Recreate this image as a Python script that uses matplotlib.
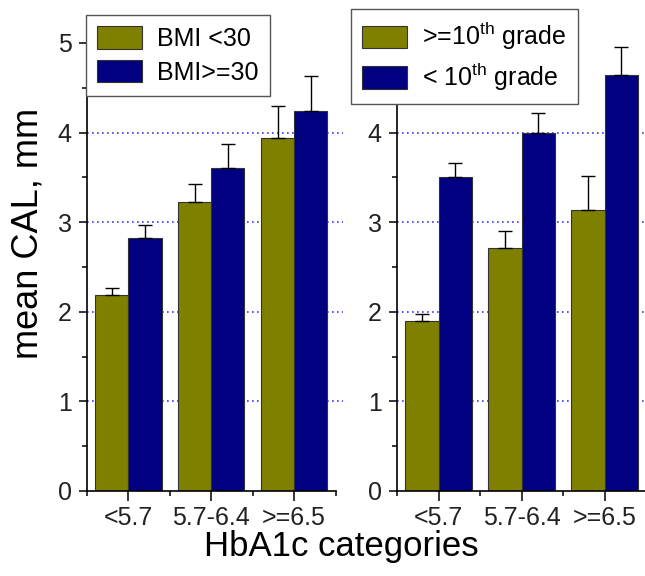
import matplotlib
matplotlib.use('Agg')
import matplotlib.pyplot as plt
import numpy as np
from matplotlib.ticker import MultipleLocator, FixedLocator

plt.rcParams['font.family'] = ['Liberation Sans', 'DejaVu Sans']
plt.rcParams['mathtext.fontset'] = 'custom'
plt.rcParams['mathtext.rm'] = 'Liberation Sans'

categories = ['<5.7', '5.7-6.4', '>=6.5']

bmi_labels = ['BMI <30', 'BMI>=30']
bmi_low = [2.19, 3.23, 3.94]
bmi_low_err = [0.07, 0.20, 0.36]
bmi_high = [2.82, 3.60, 4.24]
bmi_high_err = [0.15, 0.27, 0.39]

edu_labels = [r'>=10$^{\mathrm{th}}$ grade', r'< 10$^{\mathrm{th}}$ grade']
edu_high = [1.90, 2.71, 3.13]
edu_high_err = [0.07, 0.19, 0.39]
edu_low = [3.50, 4.00, 4.64]
edu_low_err = [0.16, 0.22, 0.31]

OLIVE = '#808000'
NAVY = '#000080'

fig = plt.figure(figsize=(6.45, 5.76), dpi=100)
ax1 = fig.add_axes([87 / 645, 85 / 576, 248.5 / 645, 475 / 576])
ax2 = fig.add_axes([397 / 645, 85 / 576, 249 / 645, 475 / 576])

x = np.arange(len(categories))
w = 0.4


def panel(ax, a, a_err, b, b_err, labels, grid_end):
    ax.bar(x - w / 2, a, w, color=OLIVE, edgecolor='#333333', linewidth=0.8,
           label=labels[0], zorder=2)
    ax.bar(x + w / 2, b, w, color=NAVY, edgecolor='#333333', linewidth=0.8,
           label=labels[1], zorder=2)
    ax.errorbar(x - w / 2, a, yerr=[np.zeros(3), a_err], fmt='none',
                ecolor='black', elinewidth=1, capsize=5, capthick=1, zorder=3)
    ax.errorbar(x + w / 2, b, yerr=[np.zeros(3), b_err], fmt='none',
                ecolor='black', elinewidth=1, capsize=5, capthick=1, zorder=3)
    ax.set_xlim(-0.5, 2.5)
    ax.set_ylim(0, 5.3)
    ax.set_xticks(x)
    ax.set_xticklabels(categories)
    ax.xaxis.set_minor_locator(FixedLocator([-0.5, 0.5, 1.5, 2.5]))
    ax.yaxis.set_major_locator(MultipleLocator(1))
    ax.yaxis.set_minor_locator(MultipleLocator(0.5))
    ax.tick_params(axis='both', which='major', labelsize=18, length=6,
                   width=1.1, colors='black', labelcolor='#222222')
    ax.tick_params(axis='both', which='minor', length=3.5, width=1.1)
    ax.tick_params(axis='x', which='major', length=7, pad=4)
    ax.tick_params(axis='y', which='major', pad=5)
    for s in ('top', 'right'):
        ax.spines[s].set_visible(False)
    for s in ('left', 'bottom'):
        ax.spines[s].set_linewidth(1.2)
    for v in range(1, 5):
        ax.axhline(v, xmax=grid_end, color='#3a3aff', linestyle=(0, (1, 2)),
                   linewidth=1.2, zorder=1, clip_on=False)


panel(ax1, bmi_low, bmi_low_err, bmi_high, bmi_high_err, bmi_labels, 1.03)
panel(ax2, edu_high, edu_high_err, edu_low, edu_low_err, edu_labels, 1.0)

fig.text(28 / 645, 1 - 233 / 576, 'mean CAL, mm', fontsize=26,
         rotation=90, ha='center', va='center')
fig.text(341 / 645, 1 - 556 / 576, 'HbA1c categories', fontsize=25,
         ha='center', va='baseline')

leg_kw = dict(fontsize=18, frameon=True, fancybox=False, framealpha=1,
              edgecolor='#555555', handlelength=1.8, handleheight=1.0,
              borderpad=0.45, labelspacing=0.35, handletextpad=0.6,
              borderaxespad=0, loc='upper left')
l1 = ax1.legend(bbox_to_anchor=(86 / 645, 1 - 15 / 576),
                bbox_transform=fig.transFigure, **leg_kw)
l2 = ax2.legend(bbox_to_anchor=(351 / 645, 1 - 9 / 576),
                bbox_transform=fig.transFigure, **leg_kw)
for leg in (l1, l2):
    leg.get_frame().set_linewidth(1.0)
    leg.set_zorder(5)

fig.savefig('out.png', dpi=100)
